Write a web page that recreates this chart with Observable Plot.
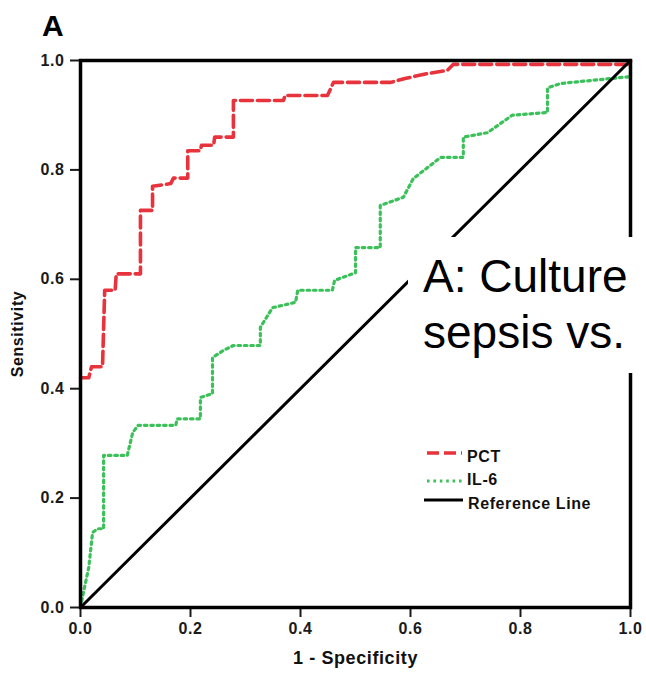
<!DOCTYPE html>
<html>
<head>
<meta charset="utf-8">
<script src="https://cdn.jsdelivr.net/npm/d3@7"></script>
<script src="https://cdn.jsdelivr.net/npm/@observablehq/plot@0.6"></script>
<style>
  html, body { margin: 0; padding: 0; background: #fff; }
  #wrap { position: relative; width: 646px; height: 678px; overflow: hidden; font-family: "Liberation Sans", Arial, sans-serif; }
  #wrap svg text { letter-spacing: 0.6px; }
  #panel { position: absolute; left: 42px; top: 11px; font-size: 30px; font-weight: bold; line-height: 29px; color: #000; }
  #legend { position: absolute; left: 0; top: 0; }
  #note { position: absolute; left: 408px; top: 237px; width: 238px; height: 136px; background: #fff;
          box-sizing: border-box; padding: 11px 0 0 15px; font-size: 46px; line-height: 56px; color: #000; white-space: nowrap; }
</style>
</head>
<body>
<div id="wrap"></div>
<script>
// ROC curve: PCT (false positive rate, sensitivity)
const pctFpr = [0, 0.015, 0.02, 0.04, 0.044, 0.063, 0.065, 0.109, 0.109, 0.131, 0.131, 0.164, 0.169, 0.195, 0.195, 0.218, 0.22, 0.242, 0.244, 0.278, 0.278, 0.369, 0.372, 0.449, 0.46, 0.564, 0.59, 0.63, 0.667, 0.678, 1, 1];
const pctTpr = [0.42, 0.42, 0.44, 0.44, 0.58, 0.58, 0.61, 0.61, 0.726, 0.726, 0.77, 0.775, 0.785, 0.785, 0.835, 0.835, 0.845, 0.845, 0.86, 0.86, 0.927, 0.927, 0.936, 0.936, 0.96, 0.96, 0.967, 0.976, 0.982, 0.993, 0.993, 1];

// ROC curve: IL-6
const il6Fpr = [0, 0.005, 0.015, 0.022, 0.031, 0.042, 0.042, 0.085, 0.095, 0.105, 0.173, 0.176, 0.218, 0.218, 0.24, 0.24, 0.26, 0.278, 0.327, 0.327, 0.349, 0.391, 0.395, 0.458, 0.462, 0.5, 0.5, 0.545, 0.545, 0.587, 0.605, 0.655, 0.696, 0.696, 0.74, 0.785, 0.849, 0.849, 0.873, 0.995, 1, 1];
const il6Tpr = [0, 0.026, 0.073, 0.137, 0.144, 0.144, 0.278, 0.278, 0.32, 0.333, 0.333, 0.345, 0.345, 0.384, 0.391, 0.457, 0.47, 0.479, 0.479, 0.512, 0.548, 0.558, 0.58, 0.58, 0.598, 0.612, 0.658, 0.658, 0.735, 0.75, 0.784, 0.823, 0.823, 0.86, 0.868, 0.9, 0.905, 0.95, 0.958, 0.97, 0.97, 1];

// Chance diagonal
const refFpr = [0, 1];
const refTpr = [0, 1];

const axisTicks = [0, 0.2, 0.4, 0.6, 0.8, 1.0];
const seriesNames = ["PCT", "IL-6", "Reference Line"];
const titleText = "A";
const xLabel = "1 - Specificity";
const yLabel = "Sensitivity";
const noteLines = ["A: Culture", "sepsis vs."];

const RED = "#e8333c";
const GREEN = "#3cc15a";
const pctStyle = {stroke: RED, strokeWidth: 3.6, strokeDasharray: "12,5"};
const il6Style = {stroke: GREEN, strokeWidth: 3.2, strokeDasharray: "2.6,3.8"};
const refStyle = {stroke: "#000", strokeWidth: 3};

const toRows = (xs, ys) => xs.map((x, i) => ({x, y: ys[i]}));
const pct = toRows(pctFpr, pctTpr);
const il6 = toRows(il6Fpr, il6Tpr);
const ref = toRows(refFpr, refTpr);

const chart = Plot.plot({
  width: 646,
  height: 678,
  marginLeft: 80,
  marginRight: 16,
  marginTop: 60,
  marginBottom: 71,
  style: {fontFamily: "'Liberation Sans', Arial, sans-serif", background: "#fff", color: "#1a1a1a"},
  x: {domain: [0, 1]},
  y: {domain: [0, 1]},
  marks: [
    Plot.line(il6, {x: "x", y: "y", ...il6Style}),
    Plot.line(pct, {x: "x", y: "y", ...pctStyle}),
    Plot.line(ref, {x: "x", y: "y", ...refStyle}),
    Plot.axisX({ticks: axisTicks, tickFormat: d => d.toFixed(1), tickSize: 10, tickPadding: 5,
                strokeWidth: 2, fontSize: 16, fontWeight: "bold", label: null}),
    Plot.axisY({ticks: axisTicks, tickFormat: d => d.toFixed(1), tickSize: 10, tickPadding: 6,
                strokeWidth: 2, fontSize: 16, fontWeight: "bold", label: null}),
    Plot.frame({stroke: "#000", strokeWidth: 3.5}),
    Plot.text([xLabel], {frameAnchor: "bottom", dy: 56, fontSize: 18, fontWeight: "bold", fill: "#111"}),
    Plot.text([yLabel], {frameAnchor: "left", textAnchor: "middle", dx: -63, rotate: -90, fontSize: 16, fontWeight: "bold", fill: "#111"})
  ]
});

const wrap = document.getElementById("wrap");
wrap.appendChild(chart);

// panel letter
const panel = document.createElement("div");
panel.id = "panel";
panel.textContent = titleText;
wrap.appendChild(panel);

// legend drawn with the same line styles as the curves
const leg = d3.create("svg").attr("id", "legend").attr("width", 646).attr("height", 678);
const legRows = [
  {name: seriesNames[0], style: pctStyle, x1: 427, x2: 462, ly: 453, tx: 467, ty: 462},
  {name: seriesNames[1], style: il6Style, x1: 427, x2: 462, ly: 481, tx: 467, ty: 485},
  {name: seriesNames[2], style: refStyle, x1: 424, x2: 463, ly: 500, tx: 468, ty: 509}
];
for (const r of legRows) {
  leg.append("line").attr("x1", r.x1).attr("x2", r.x2).attr("y1", r.ly).attr("y2", r.ly)
    .attr("stroke", r.style.stroke).attr("stroke-width", r.style.strokeWidth)
    .attr("stroke-dasharray", r.style.strokeDasharray || null);
  leg.append("text").attr("x", r.tx).attr("y", r.ty)
    .attr("font-family", "'Liberation Sans', Arial, sans-serif").attr("font-size", 16)
    .attr("font-weight", "bold").attr("letter-spacing", 0.3)
    .attr("fill", "#111").text(r.name);
}
wrap.appendChild(leg.node());

// annotation box over the upper right of the plot
const note = document.createElement("div");
note.id = "note";
note.innerHTML = noteLines.join("<br>");
wrap.appendChild(note);
</script>
</body>
</html>
